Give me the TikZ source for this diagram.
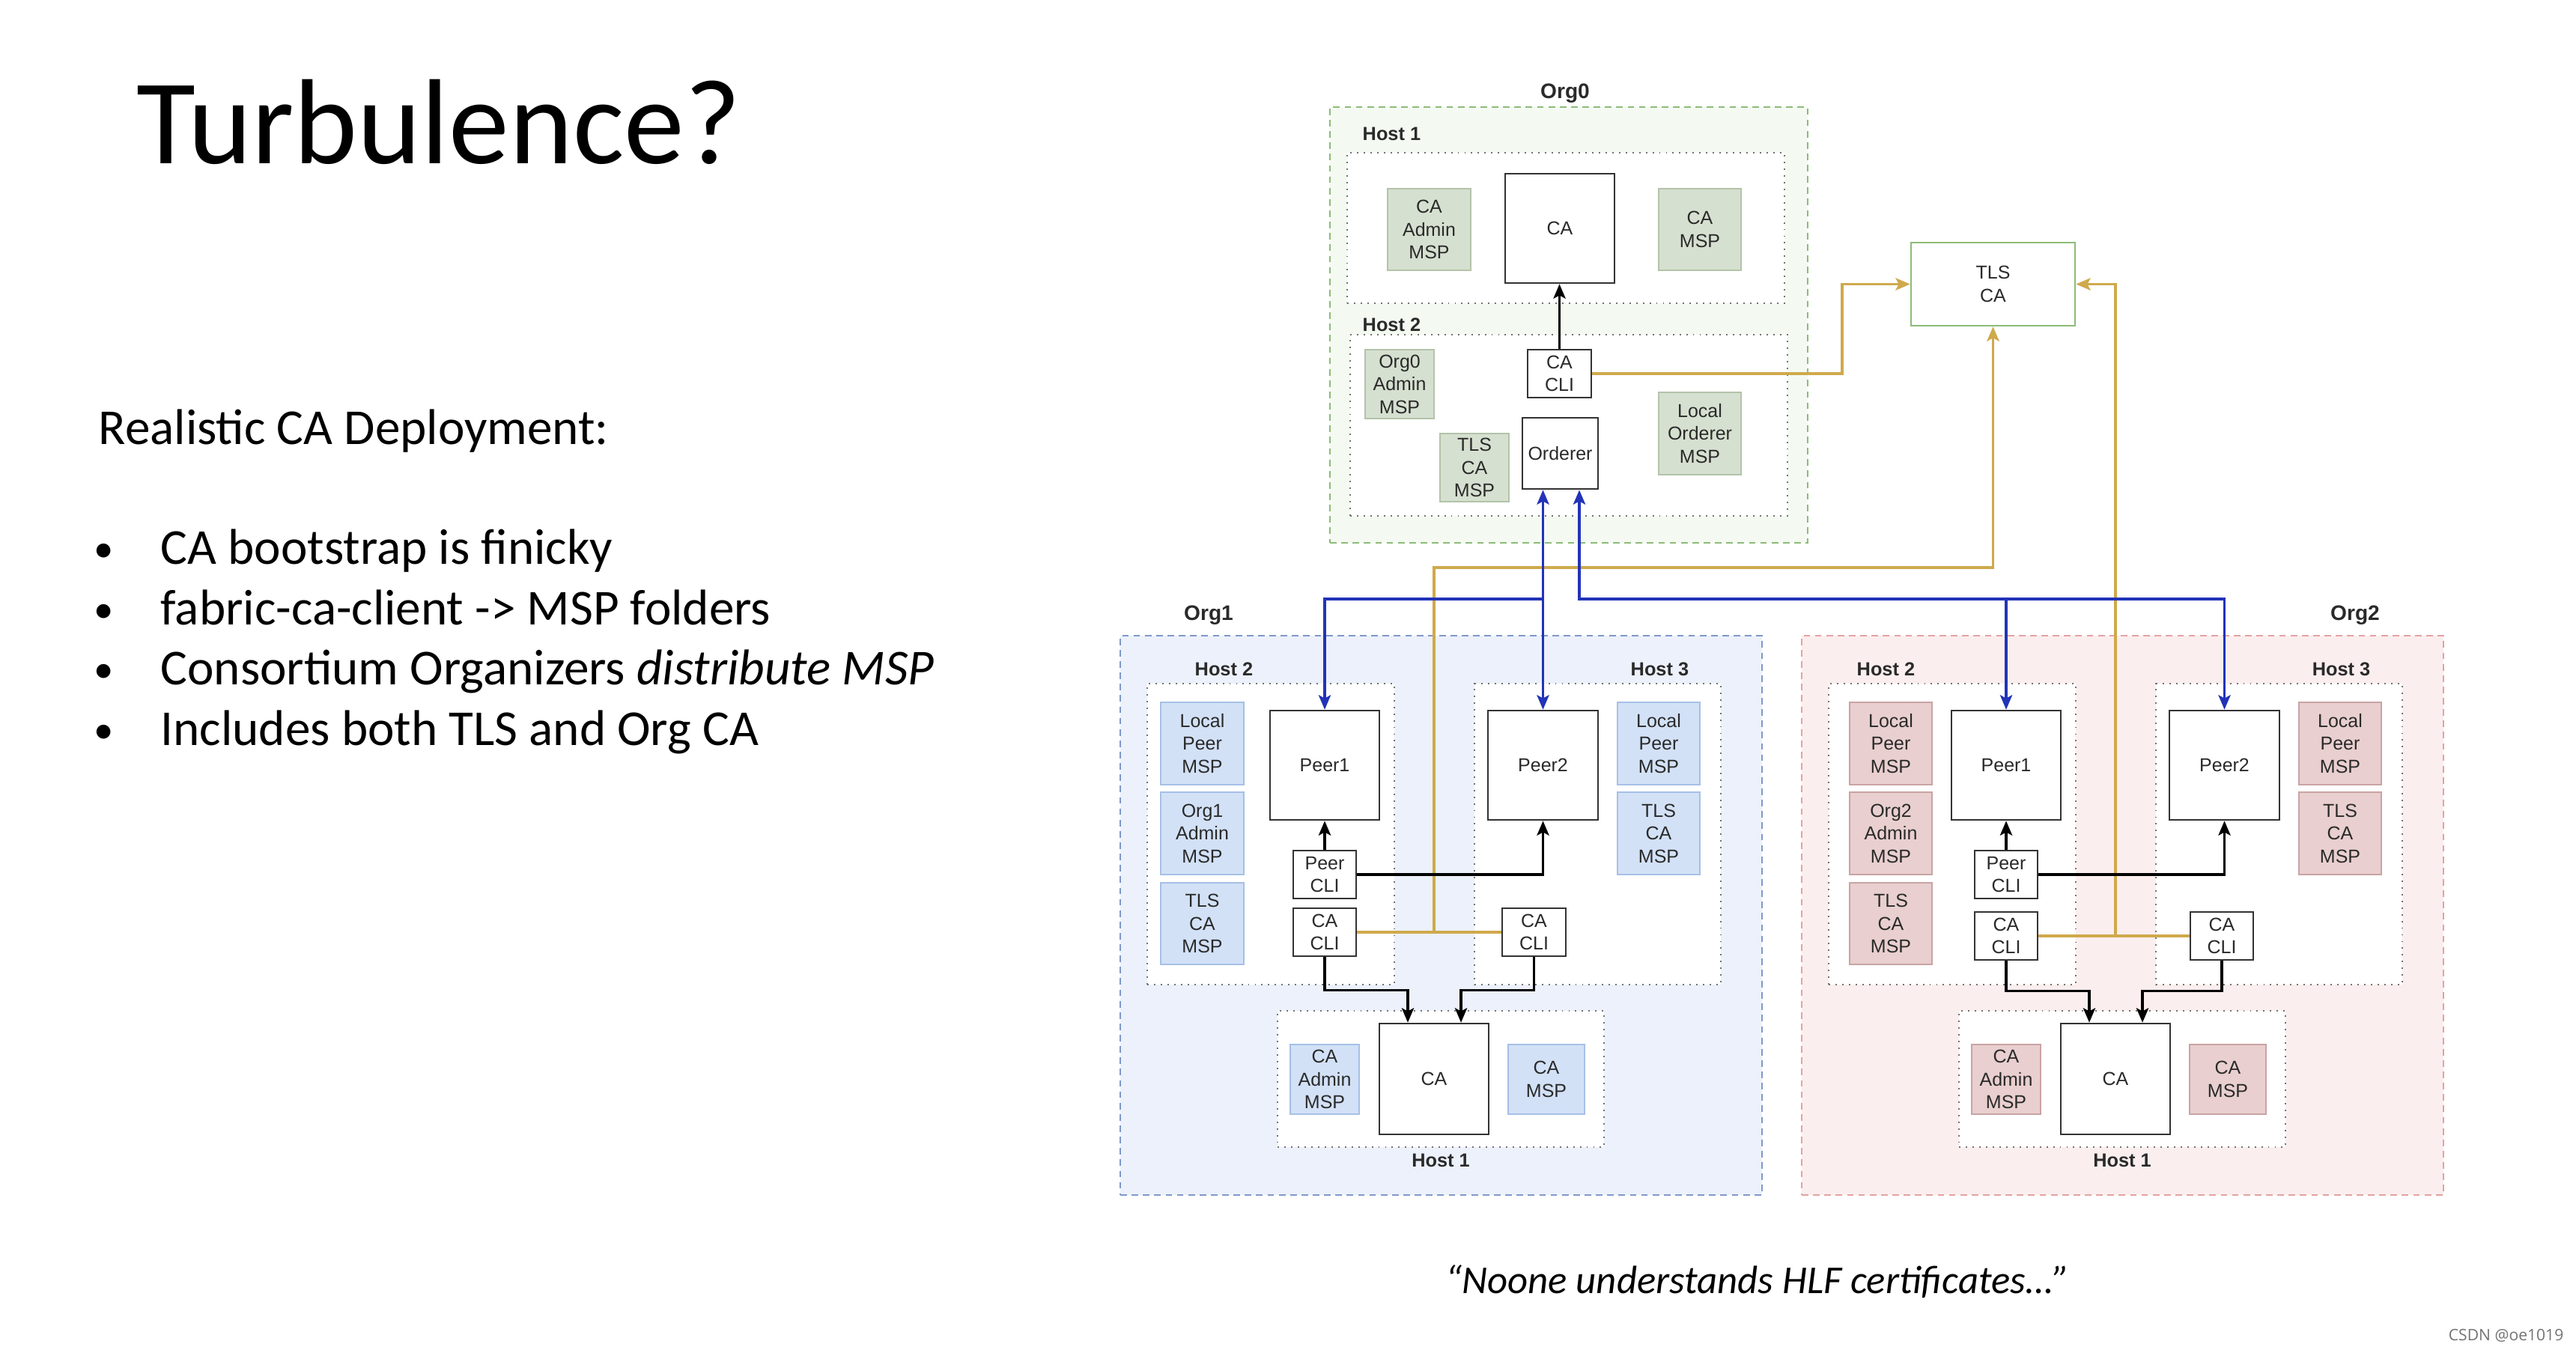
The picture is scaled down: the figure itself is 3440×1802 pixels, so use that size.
\documentclass[tikz,border=0pt]{standalone}
\usepackage{fontspec}
\setmainfont{Carlito}
\newfontfamily\hel{Liberation Sans}
\newfontfamily\osans{Open Sans}
\usetikzlibrary{arrows.meta}
\definecolor{txt}{HTML}{2A2A2A}
\definecolor{orgAf}{HTML}{F4FAF1}
\definecolor{orgAd}{HTML}{8DBB78}
\definecolor{mspAf}{HTML}{D6E0D0}
\definecolor{mspAd}{HTML}{B3C3AA}
\definecolor{orgBf}{HTML}{ECF1FB}
\definecolor{orgBd}{HTML}{7F98CA}
\definecolor{mspBf}{HTML}{D2E1F6}
\definecolor{mspBd}{HTML}{A6C0E6}
\definecolor{orgCf}{HTML}{FBEEEE}
\definecolor{orgCd}{HTML}{E3A2A2}
\definecolor{mspCf}{HTML}{E9CFCF}
\definecolor{mspCd}{HTML}{C9A3A3}
\definecolor{goldc}{HTML}{CFA94C}
\definecolor{bluec}{HTML}{2233B8}
\definecolor{tlsd}{HTML}{8CBB78}
\newcommand\bn[7]{\node[#2,minimum width={(#5-#3)*0.01cm},minimum height={(#6-#4)*0.01cm}] (#1) at ({(#3+#5)/2},{(#4+#6)/2}) {#7};}
\begin{document}
\begin{tikzpicture}[x=0.01cm,y=-0.01cm,
  boxfont/.style={font=\hel\fontsize{7.1}{8.7}\selectfont,text=txt,align=center},
  mspA/.style={draw=mspAd,fill=mspAf,line width=0.5pt,inner sep=0pt,boxfont},
  mspB/.style={draw=mspBd,fill=mspBf,line width=0.5pt,inner sep=0pt,boxfont},
  mspC/.style={draw=mspCd,fill=mspCf,line width=0.5pt,inner sep=0pt,boxfont},
  wbox/.style={draw=black!80,fill=white,line width=0.75pt,inner sep=0pt,boxfont},
  tlsbox/.style={draw=tlsd,fill=white,line width=0.7pt,inner sep=0pt,boxfont},
  hostbox/.style={draw=black!55,dotted,fill=white,line width=0.55pt,inner sep=0pt},
  orgA/.style={draw=orgAd,dash pattern=on 2.5pt off 1.8pt,fill=orgAf,line width=0.55pt,inner sep=0pt},
  orgB/.style={draw=orgBd,dash pattern=on 2.5pt off 1.8pt,fill=orgBf,line width=0.55pt,inner sep=0pt},
  orgC/.style={draw=orgCd,dash pattern=on 2.5pt off 1.8pt,fill=orgCf,line width=0.55pt,inner sep=0pt},
  hostlbl/.style={font=\hel\bfseries\fontsize{7.2}{8.6}\selectfont,text=txt,inner sep=0pt},
  orglbl/.style={font=\hel\bfseries\fontsize{8}{9.6}\selectfont,text=txt,inner sep=0pt},
  tip/.style={-{Stealth[length=5.5pt,width=4.6pt,inset=1.2pt]}},
  blkarr/.style={draw=black,line width=0.95pt,tip},
  bluearr/.style={draw=bluec,line width=0.95pt,tip},
  bluedbl/.style={draw=bluec,line width=0.95pt,{Stealth[length=5.5pt,width=4.6pt,inset=1.2pt]}-{Stealth[length=5.5pt,width=4.6pt,inset=1.2pt]}},
  goldln/.style={draw=goldc,line width=1.05pt},
  goldarr/.style={draw=goldc,line width=1.05pt,tip},
  slide/.style={inner sep=0pt,anchor=base west,text=black},
  body/.style={slide,font=\fontsize{19.1}{23}\selectfont},
  dot/.style={inner sep=0pt,anchor=base,text=black,font=\fontsize{15}{18}\selectfont}
]
\fill[white] (0,0) rectangle (3440,1802);
\useasboundingbox (0,0) rectangle (3440,1802);

% ---------- slide text ----------
\node[slide,font=\fontsize{46}{52}\selectfont] (title) at (182,218) {Turbulence?};
\node[body] (sub) at (131,593) {Realistic CA Deployment:};
\node[dot] (d1) at (139,750) {•};
\node[dot] (d2) at (139,831) {•};
\node[dot] (d3) at (139,911) {•};
\node[dot] (d4) at (139,992) {•};
\node[body] (t1) at (214,753) {CA bootstrap is finicky};
\node[body] (t2) at (214,834) {fabric-ca-client -> MSP folders};
\node[body] (t3) at (214,914) {Consortium Organizers \textit{distribute MSP}};
\node[body] (t4) at (214,995) {Includes both TLS and Org CA};
\node[inner sep=0pt,anchor=base,font=\itshape\fontsize{15}{18}\selectfont] (quote) at (2347,1727) {“Noone understands HLF certificates…”};
\node[inner sep=0pt,anchor=base east,font=\osans\fontsize{6}{7}\selectfont,text=black!55] (wm) at (3424,1790) {CSDN @oe1019};

% ---------- Org0 ----------
\bn{org0}{orgA}{1776}{143}{2414}{725}{}
\node[orglbl] (org0l) at (2090,125) {Org0};
\bn{o0h1}{hostbox}{1799}{204}{2383}{405}{}
\bn{o0h2}{hostbox}{1803}{447}{2387}{689}{}
\node[hostlbl,anchor=west] (o0h1l) at (1819,179) {Host 1};
\node[hostlbl,anchor=west] (o0h2l) at (1819,434) {Host 2};
\bn{o0cam}{mspA}{1853}{252}{1964}{361}{CA\\Admin\\MSP}
\bn{o0ca}{wbox}{2010}{232}{2156}{378}{CA}
\bn{o0cmsp}{mspA}{2215}{252}{2325}{361}{CA\\MSP}
\bn{o0adm}{mspA}{1823}{467}{1915}{559}{Org0\\Admin\\MSP}
\bn{o0cli}{wbox}{2040}{467}{2125}{531}{CA\\CLI}
\bn{o0tls}{mspA}{1923}{579}{2015}{670}{TLS\\CA\\MSP}
\bn{ord}{wbox}{2033}{558}{2134}{653}{Orderer}
\bn{o0lom}{mspA}{2215}{524}{2325}{634}{Local\\Orderer\\MSP}
\bn{tls}{tlsbox}{2552}{324}{2771}{435}{TLS\\CA}

% ---------- Org1 ----------
\bn{org1}{orgB}{1496}{849}{2353}{1596}{}
\node[orglbl] (org1l) at (1614,822) {Org1};
\bn{o1h2}{hostbox}{1532}{913}{1862}{1315}{}
\bn{o1h3}{hostbox}{1969}{913}{2298}{1315}{}
\bn{o1h1}{hostbox}{1706}{1350}{2142}{1532}{}
\node[hostlbl,anchor=west] (o1h2l) at (1595,894) {Host 2};
\node[hostlbl,anchor=west] (o1h3l) at (2177,894) {Host 3};
\node[hostlbl] (o1h1l) at (1924,1550) {Host 1};
\bn{o1lp2}{mspB}{1550}{938}{1661}{1048}{Local\\Peer\\MSP}
\bn{o1adm}{mspB}{1550}{1058}{1661}{1168}{Org1\\Admin\\MSP}
\bn{o1tls2}{mspB}{1550}{1179}{1661}{1288}{TLS\\CA\\MSP}
\bn{o1p1}{wbox}{1696}{949}{1842}{1095}{Peer1}
\bn{o1pcli}{wbox}{1727}{1136}{1811}{1200}{Peer\\CLI}
\bn{o1cli2}{wbox}{1727}{1213}{1811}{1277}{CA\\CLI}
\bn{o1p2}{wbox}{1987}{949}{2134}{1095}{Peer2}
\bn{o1lp3}{mspB}{2160}{938}{2270}{1048}{Local\\Peer\\MSP}
\bn{o1tls3}{mspB}{2160}{1058}{2270}{1168}{TLS\\CA\\MSP}
\bn{o1cli3}{wbox}{2006}{1213}{2091}{1277}{CA\\CLI}
\bn{o1cam}{mspB}{1723}{1395}{1815}{1488}{CA\\Admin\\MSP}
\bn{o1ca}{wbox}{1842}{1367}{1988}{1515}{CA}
\bn{o1cmsp}{mspB}{2014}{1395}{2116}{1488}{CA\\MSP}

% ---------- Org2 ----------
\bn{org2}{orgC}{2406}{849}{3263}{1596}{}
\node[orglbl] (org2l) at (3145,822) {Org2};
\bn{o2h2}{hostbox}{2442}{913}{2772}{1315}{}
\bn{o2h3}{hostbox}{2879}{913}{3208}{1315}{}
\bn{o2h1}{hostbox}{2616}{1350}{3052}{1532}{}
\node[hostlbl,anchor=west] (o2h2l) at (2479,894) {Host 2};
\node[hostlbl,anchor=west] (o2h3l) at (3087,894) {Host 3};
\node[hostlbl] (o2h1l) at (2834,1550) {Host 1};
\bn{o2lp2}{mspC}{2470}{938}{2580}{1048}{Local\\Peer\\MSP}
\bn{o2adm}{mspC}{2470}{1058}{2580}{1168}{Org2\\Admin\\MSP}
\bn{o2tls2}{mspC}{2470}{1179}{2580}{1288}{TLS\\CA\\MSP}
\bn{o2p1}{wbox}{2606}{949}{2752}{1095}{Peer1}
\bn{o2pcli}{wbox}{2637}{1136}{2721}{1200}{Peer\\CLI}
\bn{o2cli2}{wbox}{2637}{1218}{2721}{1282}{CA\\CLI}
\bn{o2p2}{wbox}{2897}{949}{3044}{1095}{Peer2}
\bn{o2lp3}{mspC}{3070}{938}{3180}{1048}{Local\\Peer\\MSP}
\bn{o2tls3}{mspC}{3070}{1058}{3180}{1168}{TLS\\CA\\MSP}
\bn{o2cli3}{wbox}{2925}{1218}{3009}{1282}{CA\\CLI}
\bn{o2cam}{mspC}{2633}{1395}{2725}{1488}{CA\\Admin\\MSP}
\bn{o2ca}{wbox}{2752}{1367}{2898}{1515}{CA}
\bn{o2cmsp}{mspC}{2924}{1395}{3026}{1488}{CA\\MSP}

% ---------- gold (TLS CA) connectors ----------
\draw[goldarr] (o0cli.east) -| ([xshift=-0.91cm]tls.west) -- (tls.west);
\draw[goldln] (o1cli2.east) -- (o1cli3.west);
\coordinate (j1) at (1915,1245);
\coordinate (k1) at (1915,758);
\draw[goldarr] (j1) -- (k1) -| (tls.south);
\draw[goldln] (o2cli2.east) -- (o2cli3.west);
\coordinate (j2) at (2825,1250);
\draw[goldarr] (j2) |- (tls.east);

% ---------- blue (orderer) connectors ----------
\coordinate (bL) at (2060.5,800);
\coordinate (bR) at (2109,800);
\draw[bluedbl] (o1p2.north) -- (o1p2.north |- ord.south);
\draw[bluearr] (bL) -| (o1p1.north);
\draw[bluedbl] (bR |- ord.south) -- (bR) -| (o2p2.north);
\draw[bluearr] (o2p1.north |- bR) -- (o2p1.north);

% ---------- black connectors ----------
\draw[blkarr] (o0cli.north) -- (o0cli.north |- o0ca.south);
\draw[blkarr] (o1pcli.north) -- (o1pcli.north |- o1p1.south);
\draw[blkarr] (o1pcli.east) -| (o1p2.south);
\draw[blkarr] (o1cli2.south) |- ([xshift=-0.35cm,yshift=0.43cm]o1ca.north) -- ([xshift=-0.35cm]o1ca.north);
\draw[blkarr] (o1cli3.south) |- ([xshift=0.36cm,yshift=0.43cm]o1ca.north) -- ([xshift=0.36cm]o1ca.north);
\draw[blkarr] (o2pcli.north) -- (o2pcli.north |- o2p1.south);
\draw[blkarr] (o2pcli.east) -| (o2p2.south);
\draw[blkarr] (o2cli2.south) |- ([xshift=-0.35cm,yshift=0.42cm]o2ca.north) -- ([xshift=-0.35cm]o2ca.north);
\draw[blkarr] (o2cli3.south) |- ([xshift=0.36cm,yshift=0.42cm]o2ca.north) -- ([xshift=0.36cm]o2ca.north);
\end{tikzpicture}
\end{document}
